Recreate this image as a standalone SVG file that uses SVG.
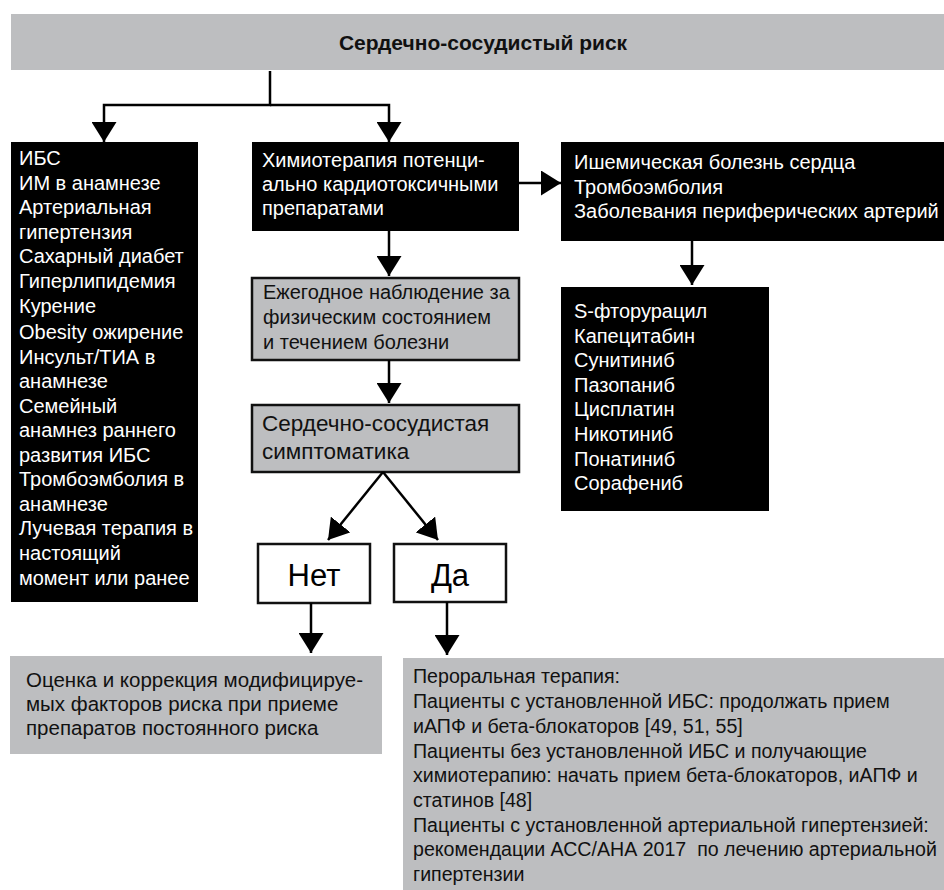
<svg xmlns="http://www.w3.org/2000/svg" width="944" height="890" viewBox="0 0 944 890">
<style>
text{font-family:"Liberation Sans","DejaVu Sans",sans-serif;}
.w{fill:#fff;font-size:20px;}
.k{fill:#111;font-size:20px;}
.blk{fill:#000;}
.gr{fill:#bdbec0;}
.grb{fill:#bdbec0;stroke:#111;stroke-width:2.5;}
.wb{fill:#fff;stroke:#111;stroke-width:2.5;}
.c{fill:none;stroke:#000;stroke-width:2.5;marker-end:url(#ah);}
.big{fill:#000;font-size:31px;}
</style>
<defs>
<marker id="ah" viewBox="0 0 20 25" refX="20" refY="12.5" markerWidth="20" markerHeight="25" markerUnits="userSpaceOnUse" orient="auto">
<path d="M0,0 L20,12.5 L0,25 Z" fill="#000"/>
</marker>
</defs>
<rect width="944" height="890" fill="#fff"/>

<g id="title">
<rect class="gr" x="11" y="14" width="933" height="56"/>
<text x="483" y="50" text-anchor="middle" style="font-size:21px;font-weight:bold;fill:#111">Сердечно-сосудистый риск</text>
</g>

<g id="risk-factors">
<rect class="blk" x="11" y="142" width="187" height="460"/>
<text class="w" x="19" y="165">ИБС</text>
<text class="w" x="19" y="190">ИМ в анамнезе</text>
<text class="w" x="19" y="214">Артериальная</text>
<text class="w" x="19" y="239">гипертензия</text>
<text class="w" x="19" y="263">Сахарный диабет</text>
<text class="w" x="19" y="288">Гиперлипидемия</text>
<text class="w" x="19" y="313">Курение</text>
<text class="w" x="19" y="339">Obesity ожирение</text>
<text class="w" x="19" y="364">Инсульт/ТИА в</text>
<text class="w" x="19" y="388">анамнезе</text>
<text class="w" x="19" y="413">Семейный</text>
<text class="w" x="19" y="437">анамнез раннего</text>
<text class="w" x="19" y="462">развития ИБС</text>
<text class="w" x="19" y="486">Тромбоэмболия в</text>
<text class="w" x="19" y="511">анамнезе</text>
<text class="w" x="19" y="535">Лучевая терапия в</text>
<text class="w" x="19" y="560">настоящий</text>
<text class="w" x="19" y="585">момент или ранее</text>
</g>

<g id="chemo">
<rect class="blk" x="252" y="142" width="267" height="89"/>
<text class="w" x="262" y="167">Химиотерапия потенци-</text>
<text class="w" x="262" y="191">ально кардиотоксичными</text>
<text class="w" x="262" y="215">препаратами</text>
</g>

<g id="diseases">
<rect class="blk" x="561" y="142" width="383" height="99"/>
<text class="w" x="574" y="169">Ишемическая болезнь сердца</text>
<text class="w" x="574" y="194">Тромбоэмболия</text>
<text class="w" x="574" y="218">Заболевания периферических артерий</text>
</g>

<g id="drugs">
<rect class="blk" x="561" y="287" width="208" height="224"/>
<text class="w" x="574" y="318">S-фторурацил</text>
<text class="w" x="574" y="343">Капецитабин</text>
<text class="w" x="574" y="367">Сунитиниб</text>
<text class="w" x="574" y="392">Пазопаниб</text>
<text class="w" x="574" y="416">Цисплатин</text>
<text class="w" x="574" y="441">Никотиниб</text>
<text class="w" x="574" y="466">Понатиниб</text>
<text class="w" x="574" y="490">Сорафениб</text>
</g>

<g id="annual">
<rect class="grb" x="252" y="278" width="267" height="82"/>
<text class="k" x="263" y="299">Ежегодное наблюдение за</text>
<text class="k" x="263" y="324">физическим состоянием</text>
<text class="k" x="263" y="349">и течением болезни</text>
</g>

<g id="symptoms">
<rect class="grb" x="252" y="405" width="267" height="67"/>
<text class="k" x="262" y="431" style="font-size:22.5px">Сердечно-сосудистая</text>
<text class="k" x="262" y="459" style="font-size:22.5px">симптоматика</text>
</g>

<g id="no">
<rect class="wb" x="258" y="544" width="112" height="59"/>
<text class="big" x="314" y="586" text-anchor="middle">Нет</text>
</g>

<g id="yes">
<rect class="wb" x="394" y="544" width="112" height="58"/>
<text class="big" x="450" y="586" text-anchor="middle">Да</text>
</g>

<g id="no-action">
<rect class="gr" x="10" y="656" width="372" height="98"/>
<text class="k" x="26" y="687" style="font-size:20.5px">Оценка и коррекция модифицируе-</text>
<text class="k" x="26" y="711" style="font-size:20.5px">мых факторов риска при приеме</text>
<text class="k" x="26" y="735" style="font-size:20.5px">препаратов постоянного риска</text>
</g>

<g id="yes-action" style="font-size:19.6px">
<rect class="gr" x="403" y="658" width="541" height="232"/>
<text fill="#111" x="413" y="683">Пероральная терапия:</text>
<text fill="#111" x="413" y="708">Пациенты с установленной ИБС: продолжать прием</text>
<text fill="#111" x="413" y="733">иАПФ и бета-блокаторов [49, 51, 55]</text>
<text fill="#111" x="413" y="758">Пациенты без установленной ИБС и получающие</text>
<text fill="#111" x="413" y="782">химиотерапию: начать прием бета-блокаторов, иАПФ и</text>
<text fill="#111" x="413" y="807">статинов [48]</text>
<text fill="#111" x="413" y="832">Пациенты с установленной артериальной гипертензией:</text>
<text fill="#111" x="413" y="856" xml:space="preserve">рекомендации АСС/АНА 2017  по лечению артериальной</text>
<text fill="#111" x="413" y="881">гипертензии</text>
</g>

<g id="connectors">
<path class="c" d="M270,71 V105 H104 V142"/>
<path class="c" d="M270,105 H389 V142"/>
<path class="c" d="M389,231 V276"/>
<path class="c" d="M519,183 H561"/>
<path class="c" d="M692,241 V285"/>
<path class="c" d="M389,360 V403"/>
<path class="c" d="M383,472 L328,540"/>
<path class="c" d="M383,472 L438,540"/>
<path class="c" d="M311,603 V653"/>
<path class="c" d="M447,602 V655"/>
</g>
</svg>
